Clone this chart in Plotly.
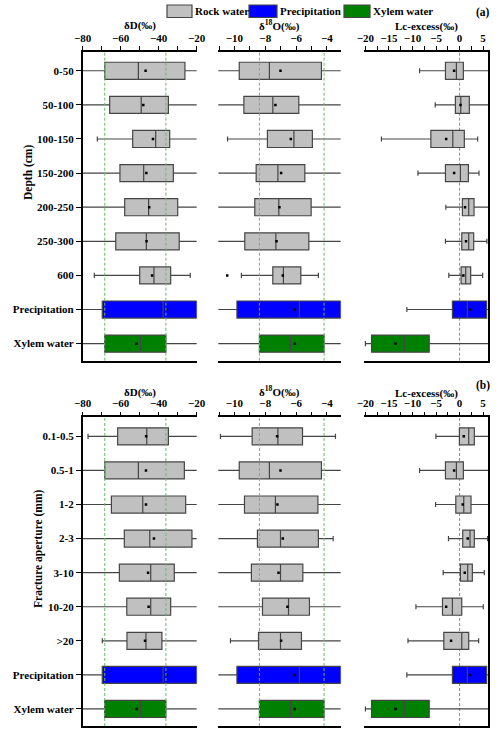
import plotly.graph_objects as go
from plotly.subplots import make_subplots

depth_groups = ["0-50", "50-100", "100-150", "150-200", "200-250", "250-300", "600"]
aperture_groups = ["0.1-0.5", "0.5-1", "1-2", "2-3", "3-10", "10-20", ">20"]
sources = ["Precipitation", "Xylem water"]

# each row: lower whisker, Q1, median, Q3, upper whisker, mean
dD_depth = [
    [-85, -68.4, -50.7, -26.2, -15, -46.9],
    [-85, -65.8, -49.2, -34.9, -15, -48.1],
    [-72.3, -53.7, -41.6, -34.2, -15, -43.0],
    [-85, -60.4, -47.9, -32.3, -15, -46.5],
    [-85, -57.9, -45.3, -30.0, -15, -45.0],
    [-85, -62.6, -46.5, -29.2, -15, -46.4],
    [-73.9, -50.0, -42.5, -33.7, -23.4, -43.5],
]
dD_aperture = [
    [-77.2, -61.6, -46.3, -34.9, -15, -46.6],
    [-85, -68.4, -50.7, -26.5, -15, -46.7],
    [-85, -64.9, -48.4, -25.8, -15, -46.7],
    [-85, -58.1, -44.7, -22.5, -15, -42.5],
    [-85, -60.7, -44.2, -31.8, -15, -45.6],
    [-85, -56.8, -44.2, -33.7, -15, -45.3],
    [-69.7, -56.7, -46.7, -38.3, -15, -47.2],
]
dD_precip = [-85, -69.7, -37.7, -18.0, -10, -36.0]
dD_xylem = [-85, -68.4, -49.5, -36.2, -15, -51.6]

d18O_depth = [
    [-12, -9.69, -7.73, -4.35, -2.5, -7.01],
    [-12, -9.39, -7.51, -5.82, -2.5, -7.34],
    [-10.45, -7.86, -6.14, -4.94, -2.5, -6.34],
    [-12, -8.59, -7.18, -5.43, -2.5, -6.97],
    [-12, -8.68, -7.12, -5.02, -2.5, -7.08],
    [-12, -9.33, -7.31, -5.17, -2.5, -7.27],
    [-9.55, -7.51, -6.82, -5.69, -4.55, -6.86],
]
d18O_aperture = [
    [-10.91, -8.85, -7.18, -5.58, -3.44, -7.23],
    [-12, -9.69, -7.73, -4.35, -2.5, -7.01],
    [-12, -9.35, -7.34, -4.58, -2.5, -7.21],
    [-12, -8.51, -7.01, -4.55, -3.59, -6.86],
    [-12, -8.9, -7.01, -5.56, -2.5, -7.14],
    [-12, -8.18, -6.49, -5.13, -2.5, -6.56],
    [-10.26, -8.44, -7.01, -5.65, -2.5, -6.97],
]
d18O_precip = [-12, -9.84, -5.78, -3.0, -2.0, -6.08]
d18O_xylem = [-12, -8.38, -6.36, -4.18, -2.5, -6.08]
d18O_outlier_group = ["600"]
d18O_outlier_value = [-10.47]

lc_depth = [
    [-8.5, -3.0, -0.68, 0.8, 8, -1.16],
    [-5.18, -0.89, 0.25, 2.07, 8, 0.2],
    [-16.6, -6.1, -1.44, 1.01, 3.84, -2.85],
    [-8.84, -3.0, 0.18, 1.87, 4.12, -1.16],
    [-2.92, 0.6, 1.94, 3.07, 6.3, 1.16],
    [-3.0, 0.46, 1.94, 3.0, 5.8, 1.37],
    [-2.29, 0.32, 1.3, 2.36, 4.9, 0.8],
]
lc_aperture = [
    [-5.03, -0.04, 1.94, 3.13, 8, 0.89],
    [-8.5, -3.0, -0.68, 0.8, 8, -1.16],
    [-5.1, -0.8, 0.89, 2.43, 8, 0.67],
    [-2.36, 0.67, 2.22, 3.13, 5.95, 1.73],
    [-3.49, 0.18, 1.73, 2.71, 5.25, 1.1],
    [-9.27, -3.63, -1.52, 0.46, 5.04, -2.85],
    [-10.96, -3.35, 0.46, 1.94, 4.05, -1.8],
]
lc_precip = [-11.2, -1.52, 1.65, 5.75, 6.5, 2.22]
lc_xylem = [-20.0, -18.7, -11.7, -6.45, 8, -13.6]

FONT = "Liberation Serif"
COLORS = {"Rock water": "#c0c0c0", "Precipitation": "#0000ff", "Xylem water": "#008000"}


def box_trace(labels, stats, color):
    return go.Box(
        y=labels,
        lowerfence=[s[0] for s in stats],
        q1=[s[1] for s in stats],
        median=[s[2] for s in stats],
        q3=[s[3] for s in stats],
        upperfence=[s[4] for s in stats],
        orientation="h",
        fillcolor=color,
        line=dict(color="#454545", width=1.2),
        width=0.5,
        whiskerwidth=0.3,
        boxpoints=False,
        showlegend=False,
        hoverinfo="skip",
    )


def add_panel(fig, row, col, groups, stats, precip, xylem):
    fig.add_trace(box_trace(groups, stats, COLORS["Rock water"]), row=row, col=col)
    fig.add_trace(box_trace(["Precipitation"], [precip], COLORS["Precipitation"]), row=row, col=col)
    fig.add_trace(box_trace(["Xylem water"], [xylem], COLORS["Xylem water"]), row=row, col=col)
    all_stats = stats + [precip, xylem]
    fig.add_trace(go.Scatter(
        x=[s[5] for s in all_stats],
        y=groups + sources,
        mode="markers",
        marker=dict(color="black", size=2.5, symbol="square"),
        showlegend=False,
        hoverinfo="skip",
    ), row=row, col=col)


def axis_ref(letter, n):
    return letter if n == 1 else f"{letter}{n}"


fig = make_subplots(rows=2, cols=3)

panels = [
    (1, depth_groups, dD_depth, d18O_depth, lc_depth),
    (2, aperture_groups, dD_aperture, d18O_aperture, lc_aperture),
]
for row, groups, dD, d18O, lc in panels:
    add_panel(fig, row, 1, groups, dD, dD_precip, dD_xylem)
    add_panel(fig, row, 2, groups, d18O, d18O_precip, d18O_xylem)
    add_panel(fig, row, 3, groups, lc, lc_precip, lc_xylem)

fig.add_trace(go.Scatter(
    x=d18O_outlier_value, y=d18O_outlier_group, mode="markers",
    marker=dict(color="black", size=2.5, symbol="square"),
    showlegend=False, hoverinfo="skip",
), row=1, col=2)

# axes
x_domains = [[0.1654, 0.3934], [0.4366, 0.6814], [0.728, 0.9766]]
y_domains = {1: [0.5086, 0.9296], 2: [0.0109, 0.4315]}
x_titles = ["<b>δD(‰)</b>", "<b>δ<sup>18</sup>O(‰)</b>", "<b>Lc-excess(‰)</b>"]
x_ranges = [[-80, -20], [-11.05, -3.1], [-20.3, 6.1]]
x_dticks = [20, 2, 5]
x_minor = [10, 1, 2.5]

tick_font = dict(family=FONT, size=11, color="black", weight="bold")
for row in (1, 2):
    labels = (depth_groups if row == 1 else aperture_groups) + sources
    for c in range(3):
        fig.update_xaxes(
            domain=x_domains[c], range=x_ranges[c], side="top",
            dtick=x_dticks[c], tick0=0, automargin=False,
            ticks="outside", ticklen=4, tickwidth=1, tickcolor="black",
            minor=dict(dtick=x_minor[c], tick0=0, ticks="outside", ticklen=4, tickcolor="black"),
            showline=True, linecolor="black", linewidth=1.5, mirror=True,
            showgrid=False, zeroline=False,
            tickfont=tick_font,
            row=row, col=c + 1,
        )
        fig.update_yaxes(
            domain=y_domains[row], type="category", automargin=False,
            categoryorder="array", categoryarray=labels,
            range=[8.5, -0.56],
            showgrid=False, zeroline=False,
            showticklabels=(c == 0),
            ticks="outside" if c == 0 else "", ticklen=5, tickcolor="black",
            showline=(c != 1), linecolor="black", linewidth=1.5,
            side="right" if c == 2 else "left",
            tickfont=tick_font,
            row=row, col=c + 1,
        )

# x axis titles, placed above the tick labels of each panel
title_font = dict(family=FONT, size=11, color="black")
title_y = {1: [26, 25.5, 26.5], 2: [392, 391.5, 393]}
for row in (1, 2):
    for c in range(3):
        fig.add_annotation(text=x_titles[c], xref="paper", yref="paper",
                           x=sum(x_domains[c]) / 2, y=1 - title_y[row][c] / 734,
                           xanchor="center", yanchor="middle", showarrow=False, font=title_font)

# reference lines: xylem water quartiles and Lc-excess = 0
for row in (1, 2):
    for c, xylem in ((1, dD_xylem), (2, d18O_xylem)):
        n = (row - 1) * 3 + c
        for v in (xylem[1], xylem[3]):
            fig.add_shape(type="line", x0=v, x1=v, y0=0, y1=1,
                          xref=axis_ref("x", n), yref=axis_ref("y", n) + " domain",
                          line=dict(color="#66bb66", width=1, dash="3px,2px"), layer="above")
    n = (row - 1) * 3 + 3
    fig.add_shape(type="line", x0=0, x1=0, y0=0, y1=1,
                  xref=axis_ref("x", n), yref=axis_ref("y", n) + " domain",
                  line=dict(color="#8a8a8a", width=1, dash="3px,2px"), layer="below")

# legend
legend_items = [("Rock water", 167, 192), ("Precipitation", 249, 277), ("Xylem water", 344, 370)]
for name, x0, x1 in legend_items:
    fig.add_shape(type="rect", xref="paper", yref="paper",
                  x0=x0 / 500, x1=x1 / 500, y0=1 - 17.5 / 734, y1=1 - 5 / 734,
                  fillcolor=COLORS[name], line=dict(color="#454545", width=1.2))
    fig.add_annotation(text=f"<b>{name}</b>", xref="paper", yref="paper", x=(x1 + 1) / 500, y=1 - 11.5 / 734,
                       xanchor="left", yanchor="middle", showarrow=False,
                       font=dict(family=FONT, size=11, color="black"))

annot_font = dict(family=FONT, size=11.5, color="black")
for text, x, y, angle in [
    ("<b>(a)</b>", 483, 13, 0),
    ("<b>(b)</b>", 483, 385, 0),
    ("<b>Depth (cm)</b>", 28, 173, -90),
    ("<b>Fracture aperture (mm)</b>", 38, 549, -90),
]:
    fig.add_annotation(text=text, xref="paper", yref="paper", x=x / 500, y=1 - y / 734,
                       xanchor="center", yanchor="middle", textangle=angle,
                       showarrow=False, font=annot_font)

fig.update_layout(
    width=500, height=734,
    margin=dict(l=0, r=0, t=0, b=0),
    paper_bgcolor="white", plot_bgcolor="white",
    font=dict(family=FONT, color="black"),
    showlegend=False,
)

fig.write_html("out.html", config={"displayModeBar": False},
               post_script="document.body.style.margin = '0';")
